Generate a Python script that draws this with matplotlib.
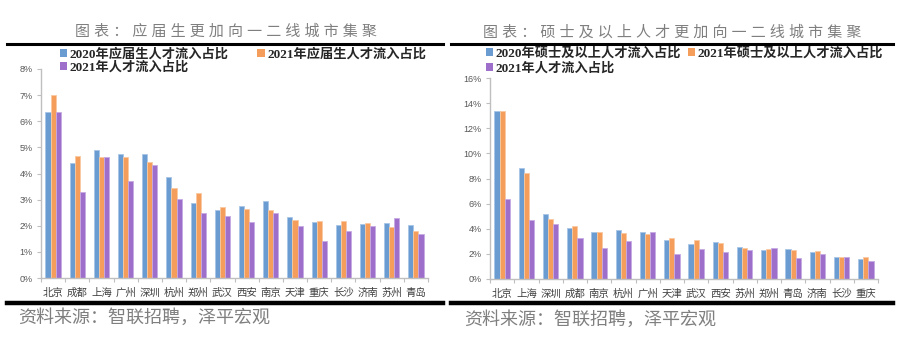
import numpy as np
import matplotlib.pyplot as plt
from matplotlib.patches import Patch
from matplotlib.lines import Line2D
from matplotlib.ticker import PercentFormatter
from matplotlib.font_manager import FontProperties

plt.rcParams['font.family'] = ['Liberation Sans', 'Noto Sans CJK SC']

# 应届生人才流入占比 (%)
grad_cities = ['北京', '成都', '上海', '广州', '深圳', '杭州', '郑州', '武汉',
               '西安', '南京', '天津', '重庆', '长沙', '济南', '苏州', '青岛']
grad_2020 = [6.36, 4.41, 4.89, 4.73, 4.74, 3.85, 2.86, 2.59,
             2.75, 2.94, 2.35, 2.15, 2.01, 2.06, 2.10, 2.01]
grad_2021 = [6.99, 4.68, 4.65, 4.64, 4.45, 3.44, 3.25, 2.72,
             2.66, 2.59, 2.22, 2.20, 2.17, 2.10, 1.97, 1.81]
talent_2021_a = [6.37, 3.30, 4.65, 3.72, 4.34, 3.04, 2.47, 2.38,
                 2.15, 2.48, 2.00, 1.41, 1.78, 2.00, 2.31, 1.70]

# 硕士及以上人才流入占比 (%)
master_cities = ['北京', '上海', '深圳', '成都', '南京', '杭州', '广州', '天津',
                 '武汉', '西安', '苏州', '郑州', '青岛', '济南', '长沙', '重庆']
master_2020 = [13.34, 8.82, 5.18, 4.09, 3.77, 3.91, 3.72, 3.11,
               2.79, 2.92, 2.55, 2.31, 2.39, 2.15, 1.78, 1.59]
master_2021 = [13.40, 8.40, 4.78, 4.23, 3.72, 3.69, 3.61, 3.24,
               3.08, 2.87, 2.50, 2.39, 2.29, 2.23, 1.75, 1.73]
talent_2021_b = [6.37, 4.66, 4.34, 3.30, 2.48, 3.04, 3.72, 2.00,
                 2.38, 2.15, 2.31, 2.47, 1.70, 2.00, 1.78, 1.41]

grad_labels = ['2020年应届生人才流入占比', '2021年应届生人才流入占比', '2021年人才流入占比']
master_labels = ['2020年硕士及以上人才流入占比', '2021年硕士及以上人才流入占比', '2021年人才流入占比']

colors = ['#6a9bd1', '#f59e5c', '#9d6fca']
edges = ['#a9c6e8', '#f9c9a2', '#c7aae3']
W, H = 900, 350

fig = plt.figure(figsize=(9, 3.5), dpi=100)


def fx(x):
    return x / W


def fy(y):
    return 1 - y / H


def draw_panel(box, cities, series, labels, ymax, ystep, title, title_x,
               leg_xy, colspace, rowspace, line_x, source_x, source_y):
    x0, y0, x1, y1 = box
    ax = fig.add_axes([fx(x0), fy(y1), fx(x1) - fx(x0), fy(y0) - fy(y1)])
    x = np.arange(len(cities))
    w = 0.21
    for off, vals, c, e in zip((-w, 0, w), series, colors, edges):
        ax.bar(x + off, vals, w, color=c, edgecolor=e, linewidth=0.6)
    ax.set_xlim(-0.5, len(cities) - 0.5)
    ax.set_ylim(0, ymax)
    ax.set_yticks(np.arange(0, ymax + ystep / 2, ystep))
    ax.yaxis.set_major_formatter(PercentFormatter(decimals=0))
    # 分类之间的刻度线，城市名放在次刻度上
    ax.set_xticks(np.arange(-0.5, len(cities)), labels=[])
    ax.set_xticks(x, cities, minor=True)
    ax.tick_params(axis='x', which='minor', length=0, pad=7,
                   labelsize=7.5, labelcolor='#404040')
    ax.tick_params(axis='x', which='major', length=3, color='#bfbfbf')
    ax.tick_params(axis='y', length=3, color='#bfbfbf', labelsize=6.5,
                   labelcolor='#595959', pad=3)
    for s in ('top', 'right'):
        ax.spines[s].set_visible(False)
    for s in ('left', 'bottom'):
        ax.spines[s].set_color('#bfbfbf')
        ax.spines[s].set_linewidth(1.0)

    legend_font = FontProperties(family=['Liberation Serif', 'Noto Sans CJK SC'],
                                 weight='bold', size=9.5)
    handles = [Patch(facecolor=c, label=l) for c, l in zip(colors, labels)]
    ax.legend(handles=[handles[0], handles[2], handles[1]], ncol=2,
              loc='upper left', bbox_to_anchor=(fx(leg_xy[0]), fy(leg_xy[1])),
              bbox_transform=fig.transFigure, frameon=False, prop=legend_font,
              handlelength=0.55, handleheight=0.55, handletextpad=0.2,
              columnspacing=colspace, labelspacing=rowspace, borderpad=0,
              borderaxespad=0, labelcolor='#262626')

    fig.text(fx(title_x), fy(32), ' '.join(title), ha='center', va='center',
             fontsize=10.8, color='#7f7f7f')
    fig.add_artist(Line2D([fx(line_x[0]), fx(line_x[1])], [fy(44)] * 2,
                          color='black', lw=2.2))
    fig.add_artist(Line2D([fx(line_x[0]), fx(line_x[1])], [fy(302.5)] * 2,
                          color='black', lw=3.2))
    fig.text(fx(source_x), fy(source_y), '资料来源：智联招聘，泽平宏观',
             ha='left', va='center', fontsize=13, color='#7f7f7f',
             style='italic')
    return ax


draw_panel((41, 69, 428, 278), grad_cities,
           (grad_2020, grad_2021, talent_2021_a), grad_labels,
           8, 1, '图表：应届生更加向一二线城市集聚', 226,
           (60, 48), 2.15, 0.05, (7, 443), 18, 318)

draw_panel((490, 78, 878, 279), master_cities,
           (master_2020, master_2021, talent_2021_b), master_labels,
           16, 2, '图表：硕士及以上人才更加向一二线城市集聚', 672,
           (486, 47), 0.5, 0.18, (451, 893), 464, 320)

fig.savefig('out.png', dpi=100)
